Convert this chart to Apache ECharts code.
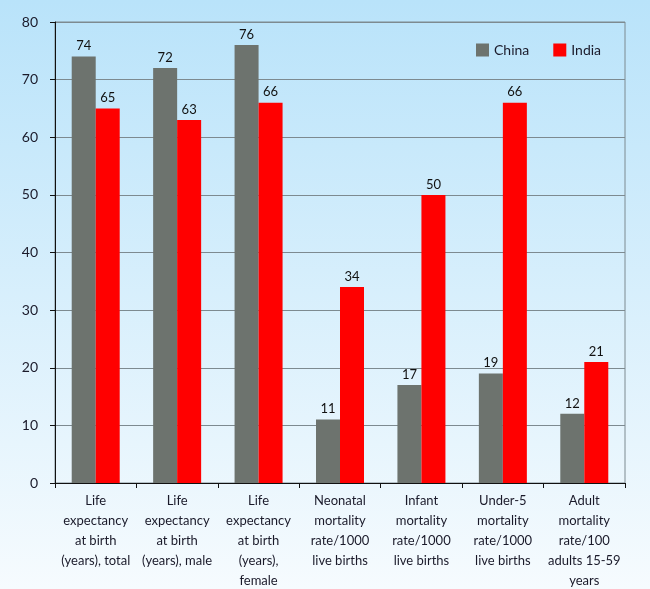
<!DOCTYPE html>
<html>
<head>
<meta charset="utf-8">
<script src="https://cdn.jsdelivr.net/npm/echarts@6/dist/echarts.min.js"></script>
<style>
  html, body { margin: 0; padding: 0; }
  #main { width: 650px; height: 589px; }
</style>
</head>
<body>
<div id="main"></div>
<script>
// categories and values
var categories = [
  'Life\nexpectancy\nat birth\n(years), total',
  'Life\nexpectancy\nat birth\n(years), male',
  'Life\nexpectancy\nat birth\n(years),\nfemale',
  'Neonatal\nmortality\nrate/1000\nlive births',
  'Infant\nmortality\nrate/1000\nlive births',
  'Under-5\nmortality\nrate/1000\nlive births',
  'Adult\nmortality\nrate/100\nadults 15-59\nyears'
]
var china = [74, 72, 76, 11, 17, 19, 12]
var india = [65, 63, 66, 34, 50, 66, 21]

var font = 'Lato'
var chart = echarts.init(document.getElementById('main'))

var option = {
  backgroundColor: {
    type: 'linear', x: 0, y: 0, x2: 0, y2: 1,
    colorStops: [
      { offset: 0, color: '#b9e3fa' },
      { offset: 1, color: '#f6fbfe' }
    ]
  },
  textStyle: { fontFamily: font },
  legend: {
    left: 471,
    top: 38,
    itemWidth: 13,
    itemHeight: 13,
    itemGap: 24,
    icon: 'rect',
    textStyle: { fontSize: 14, color: '#1a1a2a', fontFamily: font },
    data: ['China', 'India']
  },
  grid: {
    left: 55,
    right: 25,
    top: 22,
    bottom: 106,
    containLabel: false,
    outerBoundsMode: 'none',
    show: true,
    borderColor: '#7d8a90',
    borderWidth: 1,
    backgroundColor: 'transparent'
  },
  xAxis: {
    type: 'category',
    data: categories,
    axisLine: { lineStyle: { color: '#111', width: 1 } },
    axisTick: { show: true, alignWithLabel: false, length: 5, lineStyle: { color: '#111' } },
    axisLabel: {
      interval: 0,
      margin: 8,
      fontSize: 13,
      lineHeight: 20,
      color: '#1a1a2a',
      fontFamily: font
    }
  },
  yAxis: {
    type: 'value',
    min: 0,
    max: 80,
    interval: 10,
    axisLine: { show: true, lineStyle: { color: '#111', width: 1 } },
    axisTick: { show: true, length: 5, lineStyle: { color: '#111' } },
    splitLine: { lineStyle: { color: '#7d8a90', width: 1 } },
    axisLabel: { margin: 17, fontSize: 14, color: '#1a1a2a', fontFamily: font }
  },
  series: [
    {
      name: 'China',
      type: 'bar',
      data: china,
      barWidth: 24,
      barGap: '0%',
      itemStyle: { color: '#6d736e' },
      label: { show: true, position: 'top', distance: 4, fontSize: 13, color: '#111', fontFamily: font }
    },
    {
      name: 'India',
      type: 'bar',
      data: india,
      barWidth: 24,
      barGap: '0%',
      itemStyle: { color: '#ff0000' },
      label: { show: true, position: 'top', distance: 4, fontSize: 13, color: '#111', fontFamily: font }
    }
  ]
}

chart.setOption(option)
</script>
</body>
</html>
